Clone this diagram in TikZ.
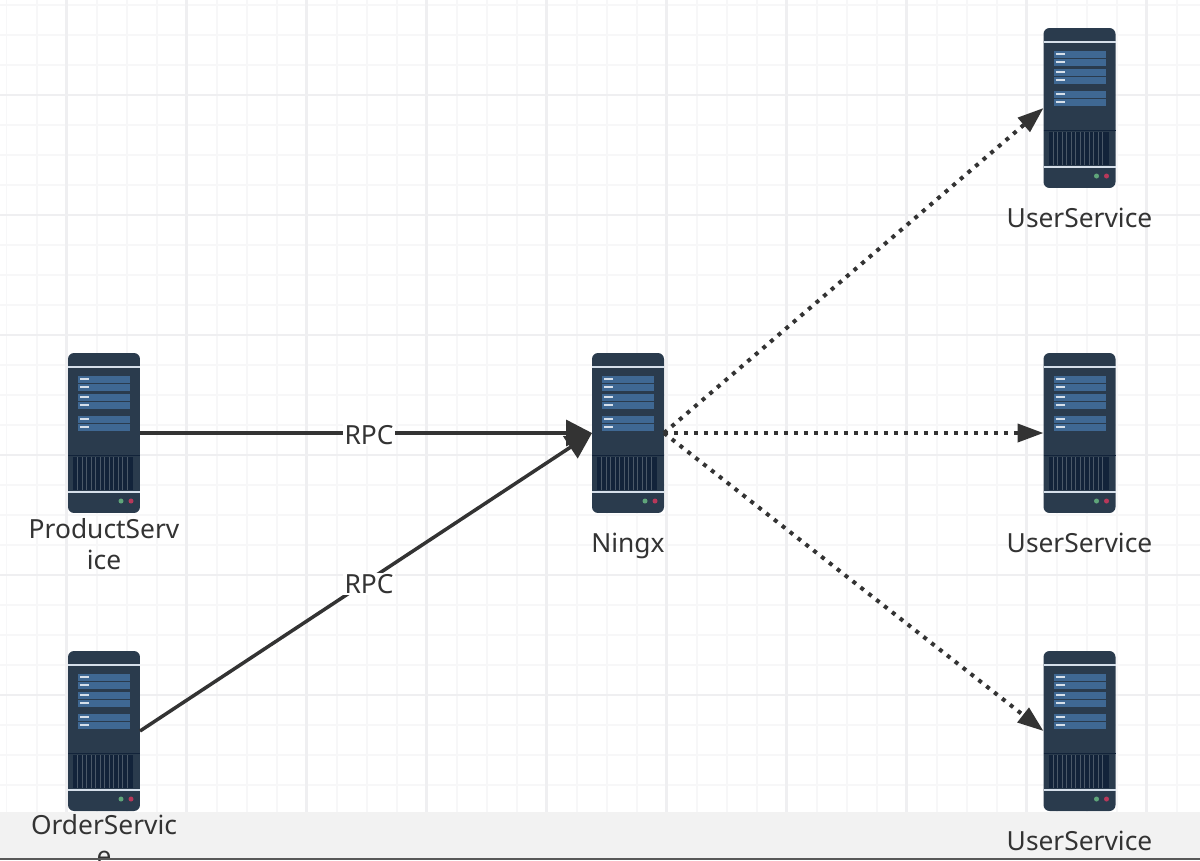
\documentclass[tikz,border=0pt]{standalone}
\usepackage{fontspec}
\setmainfont{Noto Sans}
\usetikzlibrary{positioning,arrows.meta}
\definecolor{gridminor}{HTML}{F7F7F8}
\definecolor{gridmajor}{HTML}{EFEFF1}
\definecolor{bandgrey}{HTML}{F2F2F2}
\definecolor{srvbody}{HTML}{2A3B4D}
\definecolor{srvvent}{HTML}{12233A}
\definecolor{srvbar}{HTML}{3F6893}
\definecolor{srvline}{HTML}{D5DFEA}
\definecolor{ledgreen}{HTML}{5FA57A}
\definecolor{ledred}{HTML}{B8385A}
\definecolor{inkgrey}{HTML}{333333}

\begin{document}
\begin{tikzpicture}[
        x=0.02cm, y=-0.02cm,
        server/.style={rectangle, fill=srvbody, rounded corners=0.12cm, inner sep=0pt, outer sep=0pt, minimum width=1.44cm, minimum height=3.2cm},
        srvlabel/.style={text=inkgrey, font=\fontsize{15}{17.6}\selectfont, align=center, inner sep=0pt},
        rpcline/.style={-{Triangle[length=0.52cm, width=0.52cm]}, line width=0.07cm, draw=inkgrey},
        fwdline/.style={-{Triangle[length=0.52cm, width=0.36cm]}, line width=0.08cm, draw=inkgrey, dash pattern=on 0.08cm off 0.12cm},
        rpclabel/.style={fill=white, text=inkgrey, font=\fontsize{15}{17.6}\selectfont, inner xsep=1pt, inner ysep=1pt, xshift=0.06cm, yshift=-0.04cm}
    ]

    \useasboundingbox (0,0) rectangle (1200,860);
    \clip (0,0) rectangle (1200,860);

    % Background grid
    \fill[white] (0,0) rectangle (1200,860);
    \foreach \x in {6.5,36.5,...,1200} {
            \draw[gridminor, line width=0.04cm] (\x,0) -- (\x,860);
        }
    \foreach \y in {5,35,...,860} {
            \draw[gridminor, line width=0.04cm] (0,\y) -- (1200,\y);
        }
    \foreach \x in {66.5,186.5,...,1200} {
            \draw[gridmajor, line width=0.05cm] (\x,0) -- (\x,860);
        }
    \foreach \y in {95,215,...,860} {
            \draw[gridmajor, line width=0.05cm] (0,\y) -- (1200,\y);
        }
    \fill[bandgrey] (0,812) rectangle (1200,860);

    % Servers
    \node[server] (product) at (104,433) {};
    \node[server] (order) at (104,731) {};
    \node[server] (ningx) at (628,433) {};
    \node[server] (user1) at (1079.5,108) {};
    \node[server] (user2) at (1079.5,433) {};
    \node[server] (user3) at (1079.5,731) {};

    % Server details
    \foreach \s in {product,order,ningx,user1,user2,user3} {
            \begin{scope}[shift={(\s.north west)}]
                \draw[srvline, line width=0.04cm] (0,13.5) -- (72,13.5);
                \foreach \r in {26,34,44,52,66,74} {
                        \fill[srvbar] (10,\r-3.5) rectangle (62,\r+3.5);
                        \draw[srvline, line width=0.03cm] (12,\r) -- (21,\r);
                    }
                \draw[srvvent, line width=0.02cm] (0,102) -- (72,102);
                \fill[srvvent] (5,104) rectangle (65,137);
                \foreach \v in {9.5,14,...,63} {
                        \draw[srvbody!85!white, line width=0.02cm] (\v,104) -- (\v,137);
                    }
                \draw[srvline, line width=0.04cm] (0,139) -- (72,139);
                \fill[ledgreen] (53,148) circle (0.05cm);
                \fill[ledred] (63,148) circle (0.05cm);
            \end{scope}
        }

    % Server labels
    \node[srvlabel, below=0.1cm of product] (productlabel) {ProductServ\\ice};
    \node[srvlabel, below=0.06cm of order] (orderlabel) {OrderServic\\e};
    \node[srvlabel, below=0.4cm of ningx] (ningxlabel) {Ningx};
    \node[srvlabel, below=0.4cm of user1] (user1label) {UserService};
    \node[srvlabel, below=0.4cm of user2] (user2label) {UserService};
    \node[srvlabel, below=0.4cm of user3] (user3label) {UserService};

    % RPC connections
    \draw[rpcline] (product.east) -- node[rpclabel] (rpc1) {RPC} (ningx.west);
    \draw[rpcline] (order.east) -- node[rpclabel] (rpc2) {RPC} (ningx.west);

    % Forwarding connections
    \foreach \u in {user1,user2,user3} {
            \draw[fwdline] (ningx.east) -- (\u.west);
        }

    % Bottom edge
    \fill[gray!70!black] (0,858) rectangle (1200,860);

\end{tikzpicture}
\end{document}
